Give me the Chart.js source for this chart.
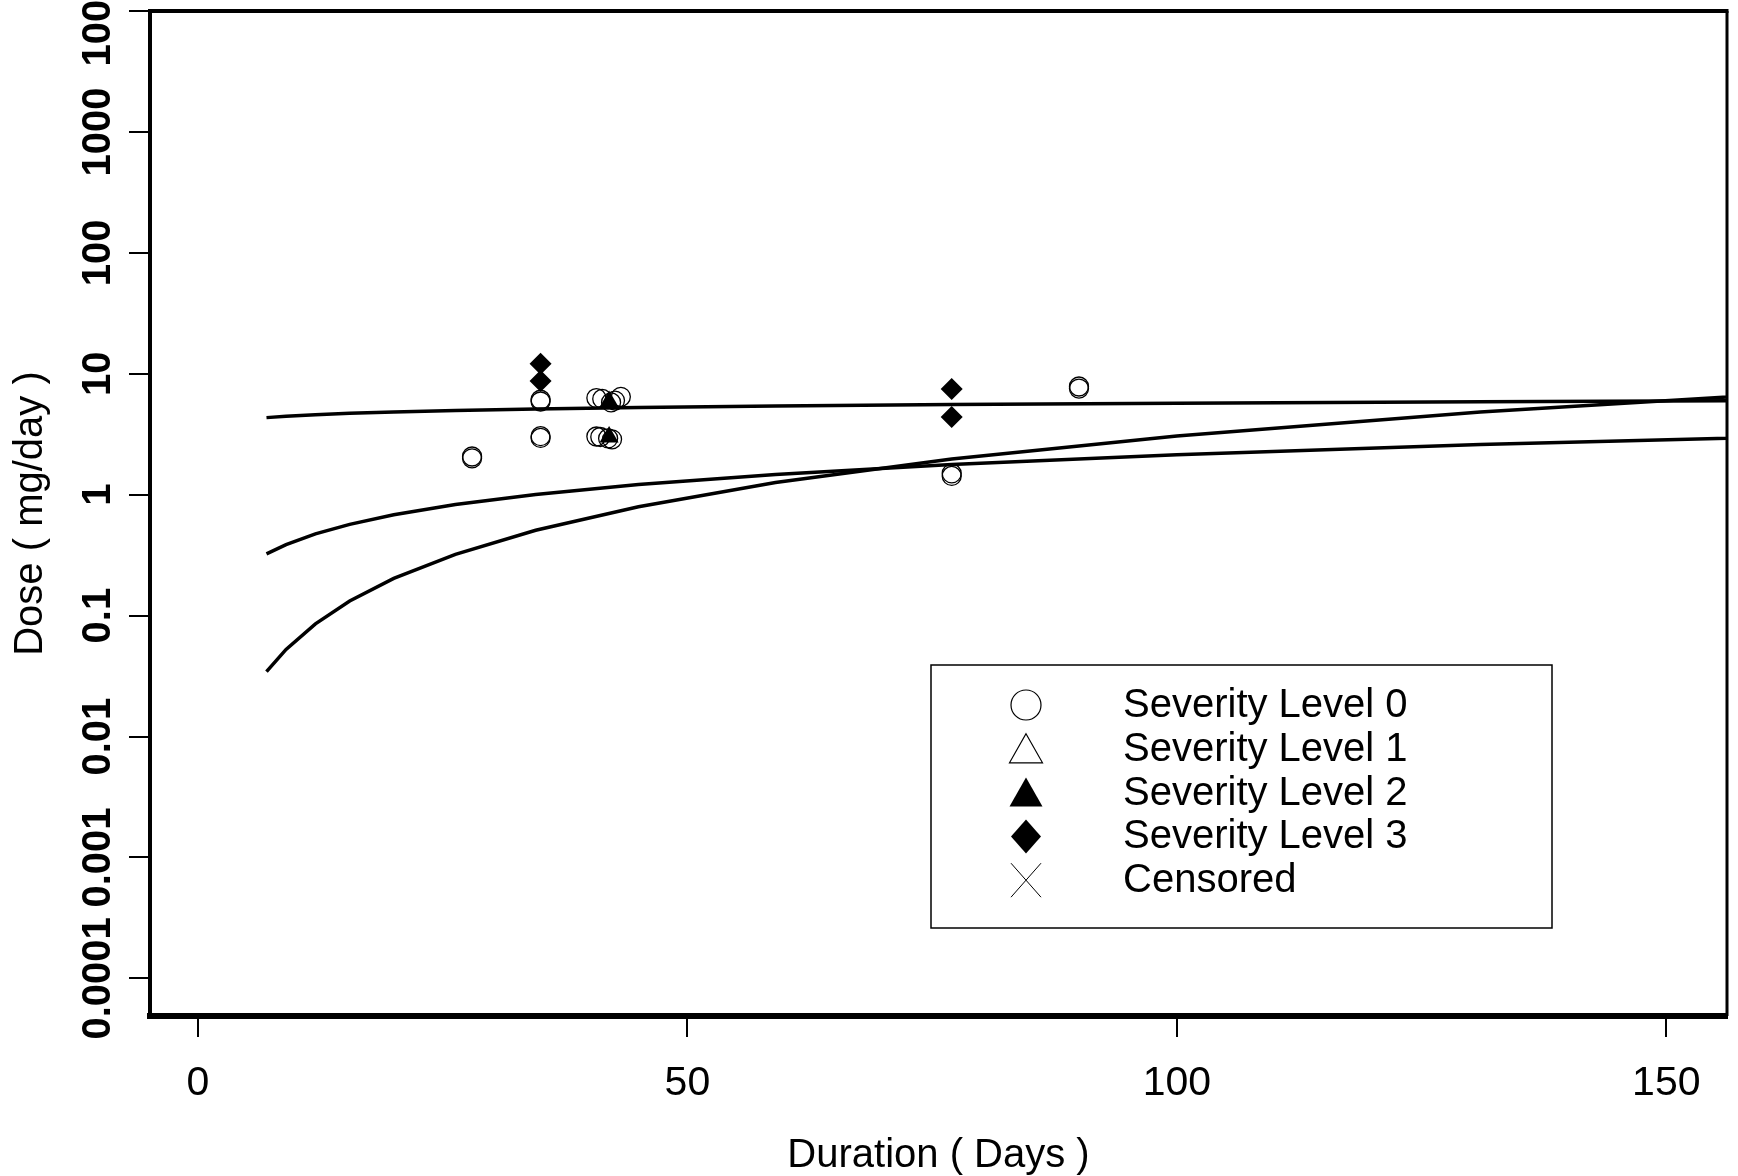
<!DOCTYPE html>
<html>
<head>
<meta charset="utf-8">
<title>Dose vs Duration</title>
<script src="https://cdn.jsdelivr.net/npm/chart.js@4.4.1/dist/chart.umd.min.js"></script>
<style>
  html, body { margin: 0; padding: 0; background: #fff; overflow: hidden; }
  canvas { display: block; }
</style>
</head>
<body>
<canvas id="grafico-dose" width="1738" height="1176"></canvas>
<script>
// valores: duração (dias) e dose (mg/day)
const sev0Days = [28, 28, 35, 35, 35, 35, 40.7, 41.3, 42.2, 42.6, 43.2, 40.7, 41.1, 41.9, 42.3, 77, 77, 90, 90];
const sev0Dose = [2.0, 2.07, 5.9, 6.1, 2.95, 3.05, 6.3, 6.2, 5.8, 6.0, 6.45, 3.03, 3.0, 2.92, 2.87, 1.43, 1.5, 7.55, 7.85];
const sev2Days = [42, 42];
const sev2Dose = [5.9, 3.0];
const sev3Days = [35, 35, 77, 77];
const sev3Dose = [12.1, 8.7, 7.5, 4.4];

// curvas ajustadas
const curveDays = [7, 9, 12, 15.5, 20, 26.3, 34.5, 45, 59, 77, 100, 131, 171];
const curveA = [4.34, 4.45, 4.58, 4.71, 4.83, 4.97, 5.12, 5.26, 5.41, 5.56, 5.71, 5.88, 6.04];
const curveB = [0.324, 0.387, 0.474, 0.569, 0.682, 0.830, 1.006, 1.215, 1.47, 1.78, 2.14, 2.60, 3.14];
const curveC = [0.0344, 0.0526, 0.0855, 0.132, 0.203, 0.321, 0.508, 0.796, 1.26, 1.97, 3.06, 4.83, 7.59];

const xTicks = [0, 50, 100, 150];
const yTicks = [0.0001, 0.001, 0.01, 0.1, 1, 10, 100, 1000, 10000];
const yTickLabels = ['0.0001', '0.001', '0.01', '0.1', '1', '10', '100', '1000', '10000'];
const legendLabels = ['Severity Level 0', 'Severity Level 1', 'Severity Level 2', 'Severity Level 3', 'Censored'];
const legendSymbols = ['circle', 'triangleOpen', 'triangle', 'diamond', 'cross'];

const FONT = '"Liberation Sans", Arial, Helvetica, sans-serif';
Chart.defaults.font.family = FONT;
Chart.defaults.color = '#000';

function pares(xs, ys) {
  return xs.map((x, i) => ({ x: x, y: ys[i] }));
}

function simbolo(ctx, tipo, cx, cy) {
  ctx.beginPath();
  if (tipo === 'circle') {
    ctx.arc(cx, cy, 15, 0, Math.PI * 2);
    ctx.lineWidth = 1.2;
    ctx.stroke();
  } else if (tipo === 'triangleOpen' || tipo === 'triangle') {
    ctx.moveTo(cx, cy - 15);
    ctx.lineTo(cx + 16.5, cy + 14);
    ctx.lineTo(cx - 16.5, cy + 14);
    ctx.closePath();
    if (tipo === 'triangle') ctx.fill();
    else { ctx.lineWidth = 1.2; ctx.stroke(); }
  } else if (tipo === 'diamond') {
    ctx.moveTo(cx, cy - 17);
    ctx.lineTo(cx + 15, cy);
    ctx.lineTo(cx, cy + 17);
    ctx.lineTo(cx - 15, cy);
    ctx.closePath();
    ctx.fill();
  } else if (tipo === 'cross') {
    ctx.moveTo(cx - 15, cy - 17);
    ctx.lineTo(cx + 15, cy + 17);
    ctx.moveTo(cx + 15, cy - 17);
    ctx.lineTo(cx - 15, cy + 17);
    ctx.lineWidth = 1;
    ctx.stroke();
  }
}

// moldura, rótulos do eixo y e legenda
const moldura = {
  id: 'moldura',
  afterDraw(chart) {
    const { ctx, chartArea: a, scales } = chart;
    ctx.save();
    ctx.strokeStyle = '#000';
    ctx.fillStyle = '#000';

    ctx.lineWidth = 4;
    ctx.beginPath();
    ctx.moveTo(a.left - 2, a.top);
    ctx.lineTo(a.right + 1.5, a.top);
    ctx.stroke();
    ctx.lineWidth = 3;
    ctx.beginPath();
    ctx.moveTo(a.right, a.top);
    ctx.lineTo(a.right, a.bottom);
    ctx.stroke();

    ctx.font = 'bold 40px ' + FONT;
    ctx.textAlign = 'center';
    ctx.textBaseline = 'alphabetic';
    yTicks.forEach((v, i) => {
      const y = scales.y.getPixelForValue(v);
      ctx.save();
      ctx.translate(a.left - 40, y);
      ctx.rotate(-Math.PI / 2);
      ctx.fillText(yTickLabels[i], 0, 0);
      ctx.restore();
    });

    // legenda
    const bx = 931, by = 665, bw = 621, bh = 263;
    ctx.lineWidth = 1.5;
    ctx.strokeRect(bx, by, bw, bh);
    ctx.font = '40px ' + FONT;
    ctx.textAlign = 'left';
    ctx.textBaseline = 'middle';
    legendLabels.forEach((txt, i) => {
      const cy = by + 40 + i * 43.8;
      simbolo(ctx, legendSymbols[i], bx + 95, cy);
      ctx.fillText(txt, bx + 192, cy + 1);
    });
    ctx.restore();
  }
};

new Chart(document.getElementById('grafico-dose'), {
  type: 'scatter',
  data: {
    datasets: [
      {
        label: 'Severity Level 3',
        data: pares(sev3Days, sev3Dose),
        pointStyle: 'rectRot', pointRadius: 11,
        backgroundColor: '#000', borderColor: '#000', borderWidth: 0
      },
      {
        label: 'Severity Level 2',
        data: pares(sev2Days, sev2Dose),
        pointStyle: 'triangle', pointRadius: 11,
        backgroundColor: '#000', borderColor: '#000', borderWidth: 0
      },
      {
        label: 'Severity Level 0',
        data: pares(sev0Days, sev0Dose),
        pointStyle: 'circle', pointRadius: 9.5,
        backgroundColor: 'rgba(0,0,0,0)', borderColor: '#000', borderWidth: 1.3
      },
      {
        label: 'Curve A', data: pares(curveDays, curveA), showLine: true,
        pointRadius: 0, borderColor: '#000', borderWidth: 3.5
      },
      {
        label: 'Curve B', data: pares(curveDays, curveB), showLine: true,
        pointRadius: 0, borderColor: '#000', borderWidth: 3.5
      },
      {
        label: 'Curve C', data: pares(curveDays, curveC), showLine: true,
        pointRadius: 0, borderColor: '#000', borderWidth: 3.5
      }
    ]
  },
  options: {
    responsive: false,
    animation: false,
    layout: { padding: { left: 0, right: 11, top: 7, bottom: 0 } },
    plugins: { legend: { display: false }, tooltip: { enabled: false } },
    scales: {
      x: {
        type: 'linear', min: -4.9, max: 156.2,
        afterBuildTicks: s => { s.ticks = xTicks.map(v => ({ value: v })); },
        afterFit: s => { s.height = 160; },
        grid: { drawOnChartArea: false, drawTicks: true, tickLength: 21, color: '#000', lineWidth: 2 },
        border: { display: true, color: '#000', width: 6 },
        ticks: { color: '#000', font: { size: 41 }, padding: 22, minRotation: 0, maxRotation: 0 },
        title: { display: true, text: 'Duration ( Days )', color: '#000', font: { size: 40, lineHeight: 1 }, padding: { top: 0, bottom: 0 } }
      },
      y: {
        type: 'logarithmic', min: 4.89e-5, max: 10000,
        afterBuildTicks: s => { s.ticks = yTicks.map(v => ({ value: v })); },
        afterFit: s => { s.width = 150; },
        grid: { drawOnChartArea: false, drawTicks: true, tickLength: 21, color: '#000', lineWidth: 2 },
        border: { display: true, color: '#000', width: 4 },
        ticks: { display: false },
        title: { display: true, text: 'Dose ( mg/day )', color: '#000', font: { size: 40 }, padding: { top: 7, bottom: 0 } }
      }
    }
  },
  plugins: [moldura]
});
</script>
</body>
</html>
